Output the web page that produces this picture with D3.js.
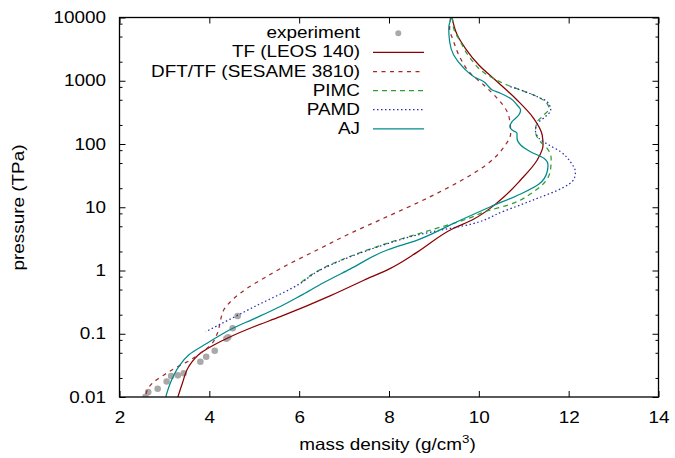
<!DOCTYPE html>
<html>
<head>
<meta charset="utf-8">
<script src="https://cdn.jsdelivr.net/npm/d3@7"></script>
<style>
  body { margin: 0; background: #fff; }
</style>
</head>
<body>
<div id="chart"></div>
<script>
// ---- data (density g/cm3, pressure TPa) ----
var expDensity  = [2.58, 2.64, 2.85, 3.05, 3.15, 3.30, 3.43, 3.80, 3.93, 4.12, 4.38, 4.42, 4.52, 4.63];
var expPressure = [0.0101, 0.012, 0.0135, 0.0176, 0.0215, 0.022, 0.0237, 0.0361, 0.0434, 0.054, 0.0836, 0.0879, 0.122, 0.191];

var tfDensity  = [3.30, 3.40, 3.54, 3.80, 4.10, 4.47, 4.99, 5.58, 6.70, 7.44, 8.03, 8.63, 9.44, 9.85, 10.48, 10.93, 11.30, 11.43, 11.41, 11.22, 10.85, 10.41, 10.00, 9.70, 9.52, 9.40];
var tfPressure = [0.01, 0.0165, 0.0301, 0.0491, 0.0664, 0.0898, 0.129, 0.186, 0.400, 0.70, 1.08, 1.95, 4.65, 6.29, 13.0, 27.0, 55.8, 96, 139, 255, 496, 966, 1774, 3260, 5280, 10300];

var dftDensity  = [2.58, 2.62, 2.73, 2.99, 3.29, 3.51, 3.80, 4.03, 4.18, 4.25, 4.32, 4.55, 4.84, 5.21, 5.66, 6.40, 7.14, 7.88, 8.92, 9.59, 10.19, 10.56, 10.71, 10.70, 10.63, 10.41, 10.11, 9.81, 9.59, 9.44, 9.35, 9.37];
var dftPressure = [0.01, 0.0129, 0.0165, 0.0223, 0.0301, 0.0361, 0.0491, 0.0664, 0.1016, 0.165, 0.237, 0.363, 0.523, 0.753, 1.148, 2.11, 3.87, 6.69, 14.7, 26.0, 48.3, 89.7, 149, 200, 324, 528, 857, 1312, 2265, 4140, 6740, 10000];

var pimcDensity  = [6.03, 6.40, 7.14, 7.88, 8.85, 9.67, 10.26, 10.66, 11.22, 11.48, 11.60, 11.61, 11.52, 11.37, 11.26, 11.30, 11.45, 11.56, 11.48, 11.30, 10.93, 10.63, 10.19, 9.81, 9.59, 9.44, 9.41];
var pimcPressure = [0.64, 0.97, 1.68, 2.58, 4.2, 6.29, 9.05, 10.9, 17.6, 25.4, 41.3, 59.4, 85.5, 109, 157, 225, 287, 366, 467, 560, 714, 857, 1233, 2265, 4140, 6740, 10000];

var pamdDensity  = [3.92, 4.99, 6.03, 6.40, 7.14, 7.88, 8.63, 9.37, 9.67, 10.56, 11.30, 11.85, 12.12, 12.15, 12.04, 11.82, 11.56, 11.34, 11.26, 11.34, 11.48, 11.60, 11.52, 11.30, 10.93, 10.70];
var pamdPressure = [0.1076, 0.265, 0.628, 0.957, 1.65, 2.53, 3.64, 4.65, 5.1, 8.7, 13.8, 20, 28, 36, 52, 75.5, 96.4, 123, 166, 225, 270, 345, 467, 560, 714, 805];

var ajDensity  = [3.03, 3.13, 3.32, 3.54, 3.95, 4.49, 5.03, 5.58, 6.03, 6.54, 7.14, 7.96, 8.63, 9.44, 10.26, 10.93, 11.34, 11.52, 11.54, 11.45, 11.15, 10.93, 10.85, 10.85, 10.74, 10.69, 10.74, 10.89, 10.93, 10.85, 10.70, 10.48, 10.30, 10.22, 10.11, 9.89, 9.67, 9.44, 9.35, 9.33, 9.39];
var ajPressure = [0.01, 0.0165, 0.0301, 0.0461, 0.0706, 0.119, 0.177, 0.27, 0.40, 0.64, 1.06, 2.11, 3.03, 5.57, 10.2, 16.2, 23.3, 36.1, 46.6, 59.4, 75.5, 96.4, 123, 148, 166, 188, 225, 287, 345, 414, 528, 634, 714, 805, 966, 1158, 1574, 2553, 4140, 6740, 10000];

var legendNames = ["experiment", "TF (LEOS 140)", "DFT/TF (SESAME 3810)", "PIMC", "PAMD", "AJ"];

var xTicks = [2, 4, 6, 8, 10, 12, 14];
var yTicks = [0.01, 0.1, 1, 10, 100, 1000, 10000];
var yTickLabels = ["0.01", "0.1", "1", "10", "100", "1000", "10000"];
var yMinorTicks = [0.02, 0.05, 0.08, 0.2, 0.5, 0.8, 2, 5, 8, 20, 50, 80, 200, 500, 800, 2000, 5000, 8000];

// ---- layout ----
var margin = {top: 17.5, right: 16.5, bottom: 61, left: 119.5},
    width = 675 - margin.left - margin.right,
    height = 458 - margin.top - margin.bottom;

var font = "'Liberation Sans', Arial, Helvetica, sans-serif",
    fs = 16.3,
    sx = 1.16;   // glyphs in the reference are wider than Arial

var svg = d3.select("#chart")
  .append("svg")
    .attr("width", 675)
    .attr("height", 458)
  .append("g")
    .attr("transform", "translate(" + margin.left + "," + margin.top + ")");

var x = d3.scaleLinear().domain([2, 14]).range([0, width]);
var y = d3.scaleLog().domain([0.01, 10000]).range([height, 0]);

function zip(a, b) { return a.map(function(v, i) { return [v, b[i]]; }); }

// widen axis text horizontally, keeping its anchor point
function stretch(g) {
  g.attr("font-family", font).attr("font-size", fs);
  g.selectAll("text").each(function() {
    var t = d3.select(this);
    var tx = +t.attr("x") || 0;
    t.attr("x", tx / sx).attr("transform", "scale(" + sx + ",1)").attr("fill", "#000");
  });
  g.select(".domain").remove();
}

// ---- axes (ticks point inward on all sides) ----
svg.append("g")
    .attr("transform", "translate(0," + height + ")")
    .call(d3.axisBottom(x).tickValues(xTicks).tickSize(-6).tickSizeOuter(0).tickPadding(14.4))
    .call(stretch);

svg.append("g")
    .call(d3.axisTop(x).tickValues(xTicks).tickSize(-6).tickSizeOuter(0).tickFormat(""))
    .call(stretch);

svg.append("g")
    .call(d3.axisLeft(y).tickValues(yTicks).tickSize(-6).tickSizeOuter(0).tickPadding(13.5)
      .tickFormat(function(d, i) { return yTickLabels[i]; }))
    .call(stretch);

svg.append("g")
    .call(d3.axisLeft(y).tickValues(yMinorTicks).tickSize(-3).tickSizeOuter(0).tickFormat(""))
    .call(stretch);

svg.append("g")
    .attr("transform", "translate(" + width + ",0)")
    .call(d3.axisRight(y).tickValues(yTicks).tickSize(-6).tickSizeOuter(0).tickFormat(""))
    .call(stretch);

svg.append("g")
    .attr("transform", "translate(" + width + ",0)")
    .call(d3.axisRight(y).tickValues(yMinorTicks).tickSize(-3).tickSizeOuter(0).tickFormat(""))
    .call(stretch);

// clip the curves to the plot box
svg.append("clipPath")
    .attr("id", "plot-clip")
  .append("rect")
    .attr("width", width)
    .attr("height", height);

var plot = svg.append("g").attr("clip-path", "url(#plot-clip)");

// experiment points
plot.selectAll("circle.exp")
    .data(zip(expDensity, expPressure))
  .enter().append("circle")
    .attr("class", "exp")
    .attr("cx", function(d) { return x(d[0]); })
    .attr("cy", function(d) { return y(d[1]); })
    .attr("r", 3.3)
    .attr("fill", "#a9a9a9");

// pressure rises along every curve, so interpolate monotone in y
var line = d3.line()
    .x(function(d) { return x(d[0]); })
    .y(function(d) { return y(d[1]); })
    .curve(d3.curveMonotoneY);

var series = [
  {data: zip(tfDensity, tfPressure),     color: "#8b0000", dash: null},
  {data: zip(dftDensity, dftPressure),   color: "#a12a2a", dash: "4,4.5"},
  {data: zip(pimcDensity, pimcPressure), color: "#2f9f2f", dash: "5,4"},
  {data: zip(pamdDensity, pamdPressure), color: "#2b2bb0", dash: "1.5,2.5"},
  {data: zip(ajDensity, ajPressure),     color: "#008b8b", dash: null}
];

series.forEach(function(s) {
  plot.append("path")
    .datum(s.data.slice().reverse())
    .attr("fill", "none")
    .attr("stroke", s.color)
    .attr("stroke-width", 1.25)
    .attr("stroke-dasharray", s.dash)
    .attr("d", line);
});

// frame
svg.append("rect")
    .attr("width", width)
    .attr("height", height)
    .attr("fill", "none")
    .attr("stroke", "#000")
    .attr("stroke-width", 1.3);

// ---- legend ----
var legend = svg.append("g")
    .attr("font-family", font)
    .attr("font-size", fs);

legendNames.forEach(function(name, i) {
  var ly = 15.8 + i * 19.1;
  legend.append("text")
      .attr("transform", "translate(" + (360 - margin.left) + "," + (ly + 5) + ") scale(" + sx + ",1)")
      .attr("text-anchor", "end")
      .text(name);
  if (i === 0) {
    legend.append("circle")
        .attr("cx", 398.3 - margin.left)
        .attr("cy", ly)
        .attr("r", 3)
        .attr("fill", "#a9a9a9");
  } else {
    var s = series[i - 1];
    legend.append("line")
        .attr("x1", 373 - margin.left)
        .attr("x2", 424 - margin.left)
        .attr("y1", ly)
        .attr("y2", ly)
        .attr("stroke", s.color)
        .attr("stroke-width", 1.25)
        .attr("stroke-dasharray", s.dash);
  }
});

// ---- axis titles ----
var xTitle = svg.append("text")
    .attr("transform", "translate(" + (387.5 - margin.left) + "," + (450 - margin.top) + ") scale(" + sx + ",1)")
    .attr("text-anchor", "middle")
    .attr("font-family", font)
    .attr("font-size", fs);
xTitle.append("tspan").text("mass density (g/cm");
xTitle.append("tspan").attr("dy", -7).attr("font-size", 11.5).text("3");
xTitle.append("tspan").attr("dy", 7).text(")");

svg.append("text")
    .attr("transform", "translate(" + (23.5 - margin.left) + "," + (207.5 - margin.top) + ") rotate(-90) scale(" + sx + ",1)")
    .attr("text-anchor", "middle")
    .attr("font-family", font)
    .attr("font-size", fs)
    .text("pressure (TPa)");
</script>
</body>
</html>
